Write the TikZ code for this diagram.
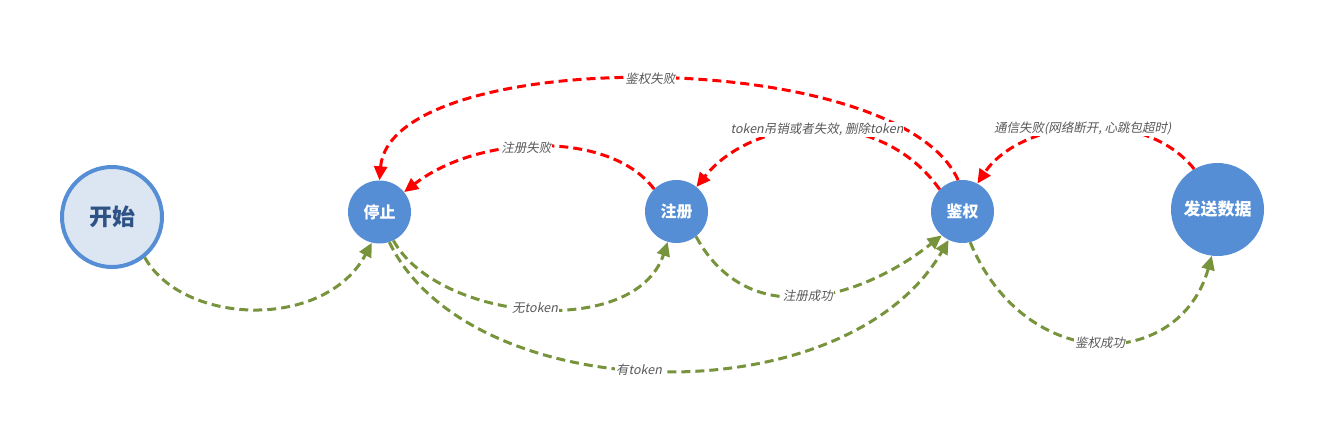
\documentclass[tikz,border=0pt]{standalone}
\usepackage{fontspec}
\setmainfont{Noto Sans CJK SC}
\newfontfamily\lblfont[FakeSlant=0.2]{Noto Sans CJK SC}
\usetikzlibrary{arrows.meta}
\definecolor{nodeblue}{HTML}{558ED5}
\definecolor{startfill}{HTML}{DCE6F2}
\definecolor{starttext}{HTML}{2E5286}
\definecolor{okgreen}{HTML}{77933C}
\definecolor{failred}{HTML}{FF0000}
\definecolor{lblgray}{HTML}{595959}
\begin{document}
\begin{tikzpicture}[x=1pt,y=1pt,
  state/.style={circle,fill=nodeblue,text=white,font=\bfseries\fontsize{16}{16}\selectfont,minimum size=63pt,inner sep=0pt},
  startstate/.style={circle,fill=startfill,draw=nodeblue,line width=4pt,text=starttext,font=\bfseries\fontsize{23}{23}\selectfont,minimum size=100pt,inner sep=0pt},
  okedge/.style={draw=okgreen,line width=3pt,dash pattern=on 9pt off 5pt,-{Triangle[length=14pt,width=13pt]}},
  failedge/.style={draw=failred,line width=3pt,dash pattern=on 9pt off 5pt,-{Triangle[length=14pt,width=13pt]}},
  lbl/.style={fill=white,text=lblgray,font=\lblfont\fontsize{12.5}{12.5}\selectfont,inner sep=1pt}]
\useasboundingbox (0,0) rectangle (1344,-442);

\node[startstate] (start) at (112,-217) {开始};
\node[state] (stop) at (379.5,-212) {停止};
\node[state] (reg) at (676.5,-211.5) {注册};
\node[state] (auth) at (962.5,-211.5) {鉴权};
\node[state,minimum size=93pt,font=\bfseries\fontsize{17}{17}\selectfont] (send) at (1217.5,-209.5) {发送数据};

% green transitions
\draw[okedge] (start.-51) .. controls +(38,-68) and +(-47,-88) .. (stop.-104);
\draw[okedge] (stop.-64) .. controls +(45,-81) and +(-33,-98) .. node[lbl,pos=0.5]{无token} (reg.-106);
\draw[okedge] (stop.-72) .. controls +(80,-166) and +(-104,-179) .. node[lbl,pos=0.47]{有token} (auth.-116);
\draw[okedge] (reg.-52) .. controls +(52,-96) and +(-81,-64) .. node[lbl,pos=0.5]{注册成功} (auth.-131);
\draw[okedge] (auth.-76) .. controls +(56,-134) and +(-32,-115) .. node[lbl,pos=0.5]{鉴权成功} (send.-97);

% red transitions
\draw[failedge] (reg.135) .. controls +(-44,59) and +(75,58) .. node[lbl,pos=0.55]{注册失败} (stop.39);
\draw[failedge] (auth.98) .. controls +(-60,135) and +(11,135) .. node[lbl,pos=0.5]{鉴权失败} (stop.90);
\draw[failedge] (auth.136) .. controls +(-60,85) and +(57,71) .. node[lbl,pos=0.5]{token吊销或者失效, 删除token} (reg.51.5);
\draw[failedge] (send.120) .. controls +(-51,64) and +(43,64) .. node[lbl,pos=0.5]{通信失败(网络断开, 心跳包超时)} (auth.62);
\end{tikzpicture}
\end{document}
